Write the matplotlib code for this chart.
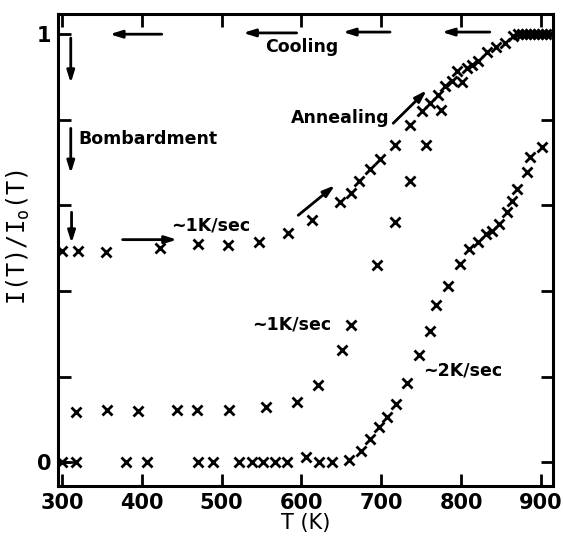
import numpy as np
import matplotlib
matplotlib.use("Agg")
import matplotlib.pyplot as plt

# first anneal ~1K/sec after bombardment, rising to 1
t_a = [300, 320, 355, 423, 470, 508, 547, 583, 613, 648, 662, 672, 686, 698,
       717, 736, 751, 761, 771, 780, 789, 795, 808, 814, 821, 833, 844, 855,
       865, 871, 876, 881, 886, 891, 896, 901, 906, 911]
i_a = [0.493, 0.493, 0.492, 0.500, 0.509, 0.508, 0.515, 0.535, 0.565, 0.607,
       0.630, 0.658, 0.686, 0.709, 0.741, 0.788, 0.820, 0.839, 0.857, 0.878,
       0.890, 0.913, 0.922, 0.927, 0.938, 0.959, 0.971, 0.980, 0.996, 1.0,
       1.0, 1.0, 1.0, 1.0, 1.0, 1.0, 1.0, 1.0]

# second run ~1K/sec
t_b = [318, 357, 395, 444, 469, 509, 555, 594, 621, 651, 662, 695, 717, 736,
       756, 775, 801]
i_b = [0.117, 0.121, 0.120, 0.122, 0.122, 0.121, 0.130, 0.141, 0.180, 0.263,
       0.321, 0.461, 0.561, 0.657, 0.741, 0.822, 0.889]

# third run ~2K/sec
t_c = [300, 317, 380, 406, 470, 489, 522, 538, 552, 567, 582, 606, 622, 638,
       660, 675, 686, 697, 707, 718, 732, 747, 761, 768, 784, 799, 810, 821,
       831, 839, 847, 858, 864, 870, 883, 886, 902]
i_c = [0.0, 0.0, 0.0, 0.0, 0.0, 0.0, 0.0, 0.0, 0.0, 0.0, 0.0, 0.012, 0.0, 0.0,
       0.004, 0.026, 0.055, 0.083, 0.106, 0.136, 0.185, 0.250, 0.306, 0.367,
       0.411, 0.464, 0.499, 0.515, 0.534, 0.541, 0.557, 0.585, 0.610, 0.639,
       0.678, 0.713, 0.736]

x_ticks = [300, 400, 500, 600, 700, 800, 900]
y_ticks = [0, 0.2, 0.4, 0.6, 0.8, 1.0]
y_labels = ["0", "", "", "", "", "1"]

plt.rcParams["font.family"] = "DejaVu Sans"
plt.rcParams["font.weight"] = "bold"

fig = plt.figure(figsize=(5.63, 5.42), dpi=100)
ax = fig.add_axes([0.103, 0.103, 0.879, 0.871])

mk = dict(ls="none", marker="x", ms=6.5, mew=2.0, color="black")
ax.plot(t_a, i_a, **mk)
ax.plot(t_b, i_b, **mk)
ax.plot(t_c, i_c, **mk)

ax.set_xlim(295, 915)
ax.set_ylim(-0.056, 1.047)
ax.set_xticks(x_ticks)
ax.set_yticks(y_ticks)
ax.set_yticklabels(y_labels)
ax.tick_params(direction="in", length=9, width=2, top=True, right=True,
               labelsize=15, pad=5)
for s in ax.spines.values():
    s.set_linewidth(2.2)

ax.set_xlabel("T (K)", fontsize=15)
ax.xaxis.set_label_coords(0.5, -0.057)
ax.set_ylabel("I(T)/I$_\\mathregular{o}$(T)", fontsize=17,
              family="DejaVu Sans Mono")
ax.yaxis.set_label_coords(-0.053, 0.527)

arr = dict(arrowstyle="-|>,head_length=0.7,head_width=0.22", lw=2,
           color="black", shrinkA=0, shrinkB=0)

def arrow(x0, y0, x1, y1):
    ax.annotate("", xy=(x1, y1), xytext=(x0, y0), arrowprops=arr)

# cooling arrows along the top
arrow(425, 1.0, 360, 1.0)
arrow(594, 1.003, 527, 1.003)
arrow(711, 1.005, 652, 1.005)
arrow(836, 1.005, 776, 1.005)
ax.text(601, 0.970, "Cooling", fontsize=12.5, ha="center", va="center")

# bombardment arrows
arrow(311, 0.991, 311, 0.886)
arrow(311, 0.780, 311, 0.675)
arrow(312, 0.584, 312, 0.512)
ax.text(320, 0.755, "Bombardment", fontsize=12.5, ha="left", va="center")

# annealing
arrow(715, 0.792, 757, 0.869)
arrow(596, 0.577, 642, 0.647)
ax.text(711, 0.805, "Annealing", fontsize=12.5, ha="right", va="center")

arrow(376, 0.52, 444, 0.52)
ax.text(437, 0.553, "~1K/sec", fontsize=12.5, ha="left", va="center")
ax.text(538, 0.322, "~1K/sec", fontsize=12.5, ha="left", va="center")
ax.text(752, 0.215, "~2K/sec", fontsize=12.5, ha="left", va="center")

ax.plot([300, 317], [0, 0], color="black", lw=1.8)

fig.savefig("out.png", dpi=100)
